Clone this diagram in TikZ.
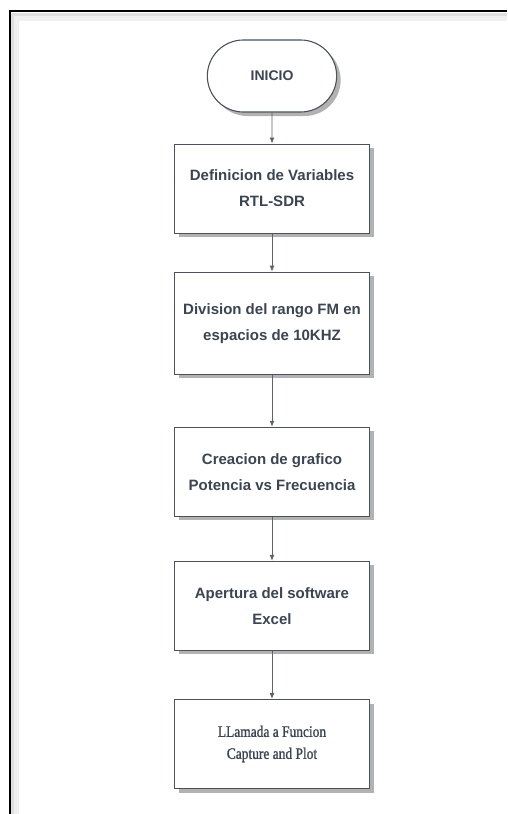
\documentclass[tikz,border=0pt]{standalone}
\usepackage{fontspec}
\setmainfont{Liberation Serif}
\setsansfont{Liberation Sans}
\newfontfamily\plotfont[FakeStretch=0.84, FakeBold=1.2]{Liberation Serif}
\usetikzlibrary{positioning, arrows.meta, shapes.misc, shadows}
\definecolor{txtgray}{HTML}{3B4552}
\definecolor{linegray}{HTML}{4A525C}
\tikzset{
  term/.style={rounded rectangle, draw=linegray, line width=1.1pt, fill=white,
               minimum width=136pt, minimum height=72pt, align=center,
               font=\sffamily\bfseries\fontsize{14}{16}\selectfont, text=txtgray,
               drop shadow={shadow xshift=4pt, shadow yshift=-4pt, fill=black, opacity=0.3}},
  proc/.style={rectangle, draw=linegray, line width=1.1pt, fill=white,
               minimum width=195pt, minimum height=89pt, align=center,
               font=\sffamily\bfseries\fontsize{15}{26}\selectfont, text=txtgray,
               drop shadow={shadow xshift=4pt, shadow yshift=-4pt, fill=black, opacity=0.3}},
  arr/.style={-{Latex[length=6pt, width=5pt]}, line width=0.9pt, draw=linegray!90},
}

\begin{document}
\begin{tikzpicture}[x=1pt, y=1pt]
  \useasboundingbox (0,0) rectangle (507,-814);
  % marco
  \draw[gray!12, line width=8pt] (15,-814) -- (15,-17) -- (507,-17);
  \draw[gray!25, line width=3pt] (12,-814) -- (12,-14) -- (507,-14);
  \draw[black, line width=2pt] (9.5,-814) -- (9.5,-11) -- (507,-11);

  \node[term] (inicio) at (272,-76) {INICIO};
  \node[proc, below=31pt of inicio] (vars) {Definicion de Variables\\RTL-SDR};
  \node[proc, minimum height=102pt, below=38pt of vars] (rango) {Division del rango FM en\\espacios de 10KHZ};
  \node[proc, below=52pt of rango] (graf) {Creacion de grafico\\Potencia vs Frecuencia};
  \node[proc, below=44pt of graf] (excel) {Apertura del software\\Excel};
  \node[proc, font=\plotfont\fontsize{16}{22}\selectfont, below=48pt of excel] (llamada) {LLamada a Funcion\\Capture and Plot};

  \draw[arr] (inicio) -- (vars);
  \draw[arr] (vars) -- (rango);
  \draw[arr] (rango) -- (graf);
  \draw[arr] (graf) -- (excel);
  \draw[arr] (excel) -- (llamada);
\end{tikzpicture}
\end{document}
